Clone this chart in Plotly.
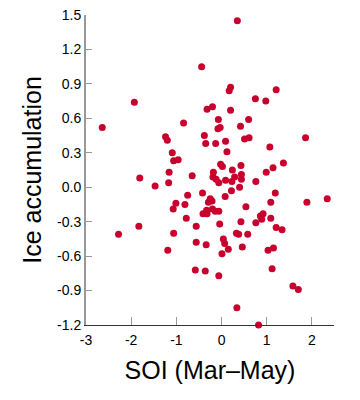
import plotly.graph_objects as go

soi = [-1.93, -0.44, -0.32, 0.35, 0.20, 0.17, 1.21, 0.75, 0.98, -0.20,
       0.20, -0.07, 0.60, -2.64, -0.84, -1.24, -1.20, -0.38, -0.35, -1.09,
       -1.06, -0.96, -1.81, -1.16, -0.65, -1.17, -1.47, -0.42, -0.75, -1.01,
       -1.07, -0.81, -0.78, -0.56, -1.83, -0.03, -0.08, 0.42, -0.13, 0.09,
       0.51, 0.61, 1.86, 0.12, 1.07, -0.02, 0.02, 0.43, 1.37, 0.24,
       1.14, 0.99, -0.18, -0.19, -0.12, -0.06, 0.09, 0.29, 0.23, 0.22,
       0.44, 0.44, 0.76, 0.40, 0.08, 1.19, -0.25, -0.29, -0.21, 1.09,
       1.89, 2.34, 0.54, -0.33, -0.41, -0.32, -0.20, -0.14, -0.06, 0.92,
       0.86, 0.89, 1.09, 0.43, 0.76, -0.04, 1.21, 1.34, -2.28, -1.06,
       -1.19, -0.56, -0.34, -0.58, -0.36, 0.33, 0.38, 0.58, 0.04, 0.07,
       0.01, 0.15, 0.46, 1.03, 1.15, -0.06, 1.12, 1.58, 1.70, 0.34,
       0.82]
ice = [0.74, 1.05, 0.68, 1.45, 0.87, 0.84, 0.85, 0.77, 0.75, 0.70,
       0.67, 0.59, 0.59, 0.52, 0.56, 0.44, 0.41, 0.45, 0.38, 0.30,
       0.23, 0.24, 0.08, 0.13, 0.10, 0.04, 0.01, -0.05, -0.07, -0.14,
       -0.19, -0.15, -0.27, -0.34, -0.34, 0.52, 0.51, 0.53, 0.38, 0.40,
       0.42, 0.43, 0.43, 0.31, 0.35, 0.20, 0.18, 0.19, 0.21, 0.15,
       0.17, 0.13, 0.13, 0.09, 0.07, 0.04, 0.06, 0.09, 0.05, -0.03,
       0.11, 0.07, 0.05, 0.00, -0.08, -0.05, -0.10, -0.13, -0.12, -0.13,
       -0.13, -0.10, -0.17, -0.20, -0.23, -0.23, -0.19, -0.21, -0.21, -0.23,
       -0.25, -0.28, -0.27, -0.30, -0.31, -0.32, -0.35, -0.37, -0.41, -0.40,
       -0.55, -0.48, -0.50, -0.72, -0.73, -0.40, -0.41, -0.41, -0.45, -0.49,
       -0.58, -0.54, -0.52, -0.55, -0.53, -0.77, -0.71, -0.86, -0.89, -1.05,
       -1.20]

x_ticks = [-3, -2, -1, 0, 1, 2]
y_ticks = [-1.2, -0.9, -0.6, -0.3, 0.0, 0.3, 0.6, 0.9, 1.2, 1.5]
y_tick_text = ["-1.2", "-0.9", "-0.6", "-0.3", "0.0", "0.3", "0.6", "0.9", "1.2", "1.5"]

fig = go.Figure(go.Scatter(
    x=soi, y=ice, mode="markers",
    marker=dict(color="#C8002D", size=7, line=dict(width=0)),
    cliponaxis=False, hoverinfo="skip"))

font = "Liberation Sans, Arial, Helvetica, sans-serif"
fig.update_layout(
    width=360, height=400,
    margin=dict(l=78, r=34, t=7, b=83, autoexpand=False),
    paper_bgcolor="white", plot_bgcolor="white",
    showlegend=False,
    font=dict(family=font, color="black", size=14),
    xaxis=dict(
        range=[-3, 2.49], tickvals=x_ticks, ticktext=[str(v) for v in x_ticks],
        ticks="inside", ticklen=8, tickwidth=1.2, tickcolor="#999999",
        showline=True, linecolor="#333333", linewidth=1,
        showgrid=False, zeroline=False, automargin=False,
        tickfont=dict(size=14, family=font),
        ticklabelstandoff=2, ticklabeloverflow="allow",
        title=dict(text="SOI (Mar–May)", font=dict(size=25, family=font), standoff=14),
    ),
    yaxis=dict(
        range=[-1.2, 1.5], tickvals=y_ticks, ticktext=y_tick_text,
        ticks="inside", ticklen=6, tickwidth=1.2, tickcolor="#999999",
        showline=True, linecolor="#999999", linewidth=2,
        showgrid=False, zeroline=False, automargin=False,
        tickfont=dict(size=14, family=font),
        ticklabeloverflow="allow",
        title=dict(text="Ice accumulation", font=dict(size=25, family=font), standoff=8),
    ),
)

fig.write_html("out.html")
